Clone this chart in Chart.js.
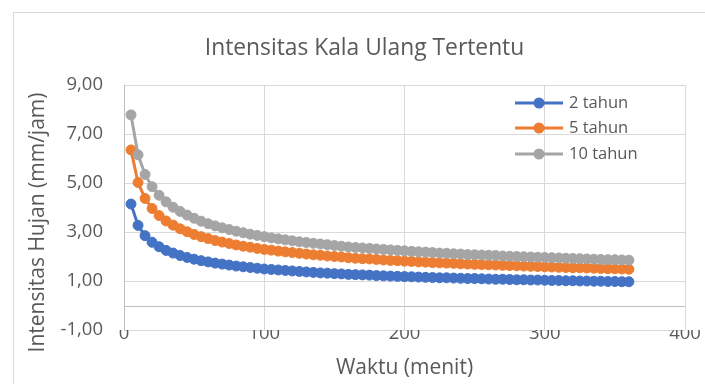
<!DOCTYPE html>
<html>
<head>
<meta charset="utf-8">
<script src="https://cdn.jsdelivr.net/npm/chart.js@4"></script>
<style>
  html, body { margin: 0; padding: 0; background: #ffffff; overflow: hidden; }
  #wrap { position: relative; width: 705px; height: 384px; }
  #frame { position: absolute; left: 13px; top: 12px; width: 760px; height: 440px; border: 1px solid #d9d9d9; box-sizing: border-box; pointer-events: none; }
  canvas { position: absolute; left: 0; top: 0; }
</style>
</head>
<body>
<div id="wrap">
  <div id="frame"></div>
  <canvas id="c" width="705" height="384"></canvas>
</div>
<script>
const chartTitle = 'Intensitas Kala Ulang Tertentu';
const xTitle = 'Waktu (menit)';
const yTitle = 'Intensitas Hujan (mm/jam)';
const seriesLabels = ['2 tahun', '5 tahun', '10 tahun'];
const seriesColors = ['#4472C4', '#ED7D31', '#A5A5A5'];
const xTickValues = [0, 100, 200, 300, 400];
const yTickValues = [-1, 1, 3, 5, 7, 9];

const minutes = [5,10,15,20,25,30,35,40,45,50,55,60,65,70,75,80,85,90,95,100,
  105,110,115,120,125,130,135,140,145,150,155,160,165,170,175,180,185,190,195,200,
  205,210,215,220,225,230,235,240,245,250,255,260,265,270,275,280,285,290,295,300,
  305,310,315,320,325,330,335,340,345,350,355,360];

const tahun2 = [4.14,3.27,2.85,2.58,2.40,2.25,2.14,2.04,1.96,1.89,1.83,1.78,1.73,1.69,1.65,1.61,1.58,1.55,1.52,1.49,
  1.47,1.45,1.43,1.41,1.39,1.37,1.35,1.33,1.32,1.30,1.29,1.27,1.26,1.25,1.24,1.22,1.21,1.20,1.19,1.18,
  1.17,1.16,1.15,1.14,1.13,1.13,1.12,1.11,1.10,1.10,1.09,1.08,1.07,1.07,1.06,1.05,1.05,1.04,1.04,1.03,
  1.02,1.02,1.01,1.01,1.00,1.00,0.99,0.99,0.98,0.98,0.97,0.97];

const tahun5 = [6.35,5.02,4.37,3.96,3.67,3.45,3.28,3.13,3.01,2.90,2.81,2.73,2.65,2.59,2.53,2.47,2.42,2.38,2.33,2.29,
  2.26,2.22,2.19,2.16,2.13,2.10,2.07,2.05,2.02,2.00,1.98,1.95,1.93,1.91,1.90,1.88,1.86,1.84,1.83,1.81,
  1.80,1.78,1.77,1.75,1.74,1.73,1.72,1.70,1.69,1.68,1.67,1.66,1.65,1.64,1.63,1.62,1.61,1.60,1.59,1.58,
  1.57,1.56,1.55,1.54,1.54,1.53,1.52,1.51,1.50,1.50,1.49,1.48];

const tahun10 = [7.78,6.15,5.35,4.85,4.50,4.23,4.01,3.84,3.69,3.56,3.44,3.34,3.25,3.17,3.10,3.03,2.97,2.91,2.86,2.81,
  2.76,2.72,2.68,2.64,2.60,2.57,2.54,2.51,2.48,2.45,2.42,2.39,2.37,2.35,2.33,2.31,2.29,2.27,2.25,2.23,
  2.21,2.19,2.18,2.16,2.14,2.13,2.11,2.10,2.08,2.07,2.06,2.05,2.04,2.02,2.01,2.00,1.99,1.98,1.97,1.96,
  1.95,1.94,1.93,1.92,1.91,1.90,1.89,1.88,1.87,1.87,1.86,1.85];

const seriesValues = [tahun2, tahun5, tahun10];

const FONT = "'Open Sans', sans-serif";
const TEXT = '#595959';

function toPoints(xs, ys) { return xs.map((x, i) => ({ x: x, y: ys[i] })); }

const datasets = seriesValues.map((vals, i) => ({
  label: seriesLabels[i],
  data: toPoints(minutes, vals),
  borderColor: seriesColors[i],
  backgroundColor: seriesColors[i],
  borderWidth: 3,
  pointRadius: 5,
  pointBorderWidth: 1,
  pointBorderColor: seriesColors[i],
  pointBackgroundColor: seriesColors[i],
  pointHoverRadius: 5,
  tension: 0,
  order: seriesValues.length - i
}));

const extrasPlugin = {
  id: 'extras',
  beforeDatasetsDraw(chart) {
    const ctx = chart.ctx, y = chart.scales.y, a = chart.chartArea;
    const py = Math.round(y.getPixelForValue(0)) + 0.5;
    ctx.save();
    ctx.strokeStyle = '#bfbfbf';
    ctx.lineWidth = 1;
    ctx.beginPath();
    ctx.moveTo(a.left, py);
    ctx.lineTo(a.right, py);
    ctx.stroke();
    ctx.restore();
  },
  afterDraw(chart) {
    const ctx = chart.ctx, a = chart.chartArea;
    // chart title
    ctx.save();
    ctx.fillStyle = TEXT;
    ctx.font = "22.8px " + FONT;
    ctx.textAlign = 'center';
    ctx.textBaseline = 'middle';
    ctx.fillText(chartTitle, (a.left + a.right) / 2 - 40, a.top - 36);
    ctx.restore();
    // y axis title
    ctx.save();
    ctx.fillStyle = TEXT;
    ctx.font = "21px " + FONT;
    ctx.textAlign = 'center';
    ctx.textBaseline = 'middle';
    ctx.translate(a.left - 86, (a.top + a.bottom) / 2 + 15);
    ctx.rotate(-Math.PI / 2);
    ctx.fillText(yTitle, 0, 0);
    ctx.restore();
    // legend
    const rows = [18, 43, 69];
    ctx.save();
    ctx.font = "16.5px " + FONT;
    ctx.textAlign = 'left';
    ctx.textBaseline = 'middle';
    chart.data.datasets.forEach((ds, i) => {
      const ry = a.top + rows[i];
      const x0 = a.right - 170, x1 = a.right - 122, xm = a.right - 146;
      ctx.strokeStyle = ds.borderColor;
      ctx.lineWidth = 3;
      ctx.beginPath();
      ctx.moveTo(x0, ry);
      ctx.lineTo(x1, ry);
      ctx.stroke();
      ctx.fillStyle = ds.borderColor;
      ctx.beginPath();
      ctx.arc(xm, ry, 5.5, 0, Math.PI * 2);
      ctx.fill();
      ctx.fillStyle = TEXT;
      ctx.fillText(ds.label, a.right - 116, ry);
    });
    ctx.restore();
  }
};

new Chart(document.getElementById('c'), {
  type: 'line',
  data: { datasets: datasets },
  options: {
    responsive: false,
    animation: false,
    events: [],
    layout: { padding: { left: 0, right: 20, top: 85, bottom: 0 } },
    plugins: {
      legend: { display: false },
      tooltip: { enabled: false },
      title: { display: false }
    },
    scales: {
      x: {
        type: 'linear',
        min: 0,
        max: 400,
        afterBuildTicks(scale) { scale.ticks = xTickValues.map(v => ({ value: v })); },
        afterFit(scale) { scale.height = 54; },
        grid: { color: '#d9d9d9', lineWidth: 1, drawTicks: false },
        border: { display: false },
        ticks: { color: TEXT, font: { family: FONT, size: 18.5 }, padding: -7, maxRotation: 0 },
        title: {
          display: true,
          text: xTitle,
          color: TEXT,
          font: { family: FONT, size: 21, lineHeight: 1.2 },
          padding: { top: 0, bottom: 3 }
        }
      },
      y: {
        type: 'linear',
        min: -1,
        max: 9,
        afterBuildTicks(scale) { scale.ticks = yTickValues.map(v => ({ value: v })); },
        afterFit(scale) { scale.width = 124; },
        grid: { color: '#d9d9d9', lineWidth: 1, drawTicks: false },
        border: { display: true, color: '#bfbfbf', width: 1 },
        ticks: {
          color: TEXT,
          font: { family: FONT, size: 18.5 },
          padding: 21,
          callback: (v) => v.toFixed(2).replace('.', ',')
        }
      }
    }
  },
  plugins: [extrasPlugin]
});
</script>
</body>
</html>
